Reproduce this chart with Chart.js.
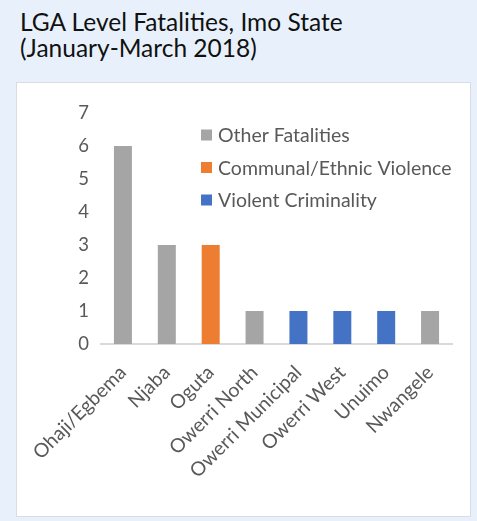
<!DOCTYPE html>
<html><head><meta charset="utf-8">
<script src="https://cdn.jsdelivr.net/npm/chart.js@4/dist/chart.umd.min.js"></script>
<style>
html,body{margin:0;padding:0;}
body{width:477px;height:521px;background:#e8f1fb;position:relative;overflow:hidden;font-family:Lato,"Open Sans",sans-serif;}
#title{position:absolute;left:20px;top:9px;font-size:24.5px;line-height:26px;color:#111;}
#box{position:absolute;left:16px;top:82px;width:455px;height:435px;background:#fff;border:1px solid #dadde0;box-sizing:border-box;}
#box canvas{position:absolute;left:0;top:0;}
</style></head>
<body>
<div id="title">LGA Level Fatalities, Imo State<br>(January-March 2018)</div>
<div id="box"><canvas id="c" width="453" height="433"></canvas></div>
<script>
const categories = ["Ohaji/Egbema","Njaba","Oguta","Owerri North","Owerri Municipal","Owerri West","Unuimo","Nwangele"];
const otherFatalities = [6,3,null,1,null,null,null,1];
const communalViolence = [null,null,3,null,null,null,null,null];
const violentCriminality = [null,null,null,null,1,1,1,null];
const yTicks = [0,1,2,3,4,5,6,7];
const seriesNames = ["Other Fatalities","Communal/Ethnic Violence","Violent Criminality"];
const seriesColors = ["#a5a5a5","#ed7d31","#4472c4"];
const font = "Lato, 'Open Sans', sans-serif";

const legendPlugin = {
  id:'insideLegend',
  afterDraw(chart){
    const ctx = chart.ctx;
    ctx.save();
    ctx.font = "19.5px " + font;
    ctx.textBaseline = 'middle';
    chart.data.datasets.forEach((ds,i)=>{
      const y = 52 + i*32.5;
      ctx.fillStyle = ds.backgroundColor;
      ctx.fillRect(184, y-5.5, 11, 11);
      ctx.fillStyle = '#595959';
      ctx.fillText(ds.label, 201, y+1);
    });
    ctx.restore();
  }
};

new Chart(document.getElementById('c'), {
  type:'bar',
  data:{
    labels:categories,
    datasets:[
      {label:seriesNames[0], data:otherFatalities, backgroundColor:seriesColors[0]},
      {label:seriesNames[1], data:communalViolence, backgroundColor:seriesColors[1]},
      {label:seriesNames[2], data:violentCriminality, backgroundColor:seriesColors[2]}
    ]
  },
  options:{
    responsive:false, animation:false,
    layout:{padding:{top:30,right:18,left:0,bottom:0}},
    datasets:{bar:{barPercentage:0.41,categoryPercentage:1}},
    plugins:{legend:{display:false},tooltip:{enabled:false},title:{display:false}},
    scales:{
      x:{stacked:true,
        grid:{display:false,drawTicks:false},
        border:{color:'#d9d9d9',width:2},
        ticks:{color:'#595959',font:{size:19.5,family:font},minRotation:45,maxRotation:45,padding:17,autoSkip:false},
        afterFit(s){s.height=172;s.paddingLeft=0;s.paddingRight=0;}
      },
      y:{stacked:true,min:0,max:7,
        grid:{display:false,drawTicks:false},
        border:{display:false},
        afterBuildTicks(s){s.ticks=yTicks.map(v=>({value:v}));},
        ticks:{color:'#595959',font:{size:18.5,family:font},padding:12},
        afterFit(s){s.width=84;}
      }
    }
  },
  plugins:[legendPlugin]
});
</script>
</body></html>
